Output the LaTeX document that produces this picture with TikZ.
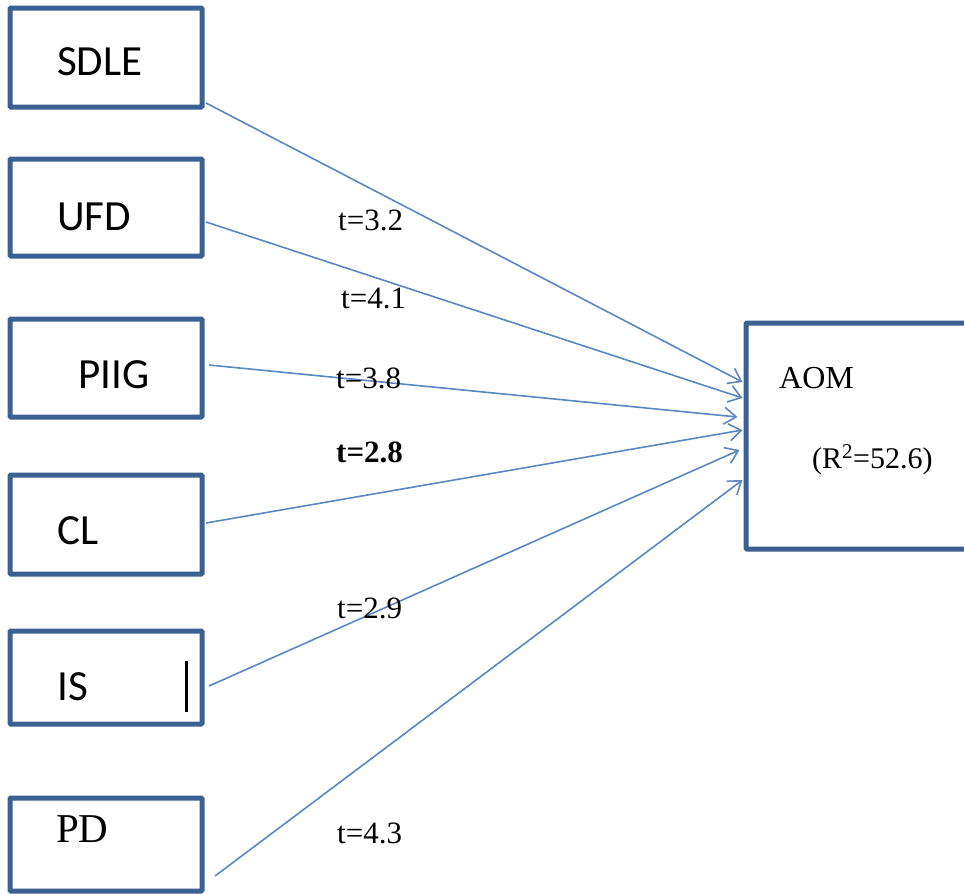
\documentclass[tikz,border=0pt]{standalone}
\usepackage{fontspec}
\setmainfont{Liberation Serif}
\newfontfamily\calib{Carlito}
\usetikzlibrary{arrows.meta}
\definecolor{boxblue}{HTML}{3B6091}
\definecolor{linkblue}{HTML}{5A87C2}
\tikzset{
  varbox/.style={draw=boxblue, line width=5pt, rectangle, inner sep=0pt, rounded corners=1pt},
  conn/.style={draw=linkblue, line width=1.6pt, -{Straight Barb[length=12pt,width=17pt,line width=1.6pt]}},
  sanslab/.style={anchor=base west, inner sep=0pt, font=\calib\fontsize{43}{43}\selectfont},
  seriflab/.style={anchor=base west, inner sep=0pt, font=\fontsize{41}{41}\selectfont},
  tlab/.style={anchor=base west, inner sep=0pt, font=\fontsize{31}{31}\selectfont},
  aomlab/.style={anchor=base west, inner sep=0pt, font=\fontsize{32}{32}\selectfont},
  r2lab/.style={anchor=base west, inner sep=0pt, font=\fontsize{30}{30}\selectfont}
}
\begin{document}
\begin{tikzpicture}[x=1pt,y=-1pt]
\useasboundingbox (0,0) rectangle (964,894);
\clip (0,0) rectangle (964,894);
% boxes
\node[varbox, minimum width=192pt, minimum height=99pt] (sdle) at (106,57.5) {};
\node[varbox, minimum width=192pt, minimum height=97pt] (ufd) at (106,207.5) {};
\node[varbox, minimum width=192pt, minimum height=98pt] (piig) at (106,368) {};
\node[varbox, minimum width=192pt, minimum height=99pt] (cl) at (106,524.5) {};
\node[varbox, minimum width=192pt, minimum height=93pt] (is) at (106,677.5) {};
\node[varbox, minimum width=192pt, minimum height=93pt] (pd) at (106,844.5) {};
\node[varbox, minimum width=250pt, minimum height=226pt] (aom) at (871,436) {};
% box labels
\node[sanslab] (tsdle) at (57,75) {SDLE};
\node[sanslab] (tufd) at (57,230) {UFD};
\node[sanslab] (tpiig) at (78,388) {PIIG};
\node[sanslab] (tcl) at (57,544) {CL};
\node[sanslab] (tis) at (57,700) {IS};
\node[seriflab] (tpd) at (56,842) {PD};
\node[aomlab] (taom) at (779,388) {AOM};
\node[r2lab] (tr2) at (812,468) {(R\textsuperscript{2}=52.6)};
% cursor mark in IS box
\draw[line width=3pt, black] (186,661) -- (186,712);
% connectors
\draw[conn] ([xshift=1.5pt,yshift=-45.5pt]sdle.east) -- ([xshift=-1pt,yshift=54pt]aom.west);
\draw[conn] ([xshift=1.5pt,yshift=-14.5pt]ufd.east) -- ([xshift=-1pt,yshift=38pt]aom.west);
\draw[conn] ([xshift=4.5pt,yshift=3pt]piig.east) -- ([xshift=-6pt,yshift=19pt]aom.west);
\draw[conn] ([xshift=1.5pt,yshift=1.5pt]cl.east) -- ([xshift=-1pt,yshift=6pt]aom.west);
\draw[conn] ([xshift=4.5pt,yshift=-8.5pt]is.east) -- ([xshift=-4pt,yshift=-14pt]aom.west);
\draw[conn] ([xshift=10.5pt,yshift=-31.5pt]pd.east) -- ([xshift=-1pt,yshift=-44pt]aom.west);
% t labels
\node[tlab] (t1) at (338,230) {t=3.2};
\node[tlab] (t2) at (341,308) {t=4.1};
\node[tlab] (t3) at (336,388) {t=3.8};
\node[tlab] (t4) at (336,462) {\bfseries t=2.8};
\node[tlab] (t5) at (337,618) {t=2.9};
\node[tlab] (t6) at (337,843) {t=4.3};
\end{tikzpicture}
\end{document}
